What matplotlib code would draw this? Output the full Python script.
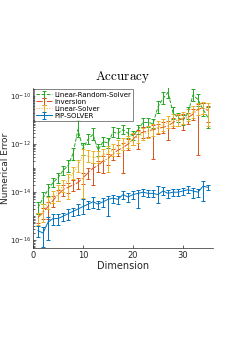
import numpy as np
import matplotlib
matplotlib.use("Agg")
import matplotlib.pyplot as plt
from matplotlib.ticker import LogLocator, NullFormatter

plt.rcParams["mathtext.fontset"] = "cm"

dims = np.arange(1, 36)

# log10 of mean error, plus error-bar extents below / above (in decades)
rand_log = [-14.65, -14.25, -13.9, -13.6, -13.4, -13.1, -12.9, -12.4, -11.4, -12.2,
            -11.8, -11.6, -12.25, -11.9, -11.95, -11.5, -11.55, -11.4, -11.55, -11.65,
            -11.4, -11.1, -11.1, -11.15, -10.45, -10.1, -9.85, -10.7, -10.9, -11.0,
            -10.7, -9.95, -10.15, -10.55, -10.9]
rand_lo = [0.25, 0.25, 0.25, 0.2, 0.2, 0.2, 0.25, 0.25, 0.3, 0.25,
           0.2, 0.25, 0.25, 0.2, 0.2, 0.2, 0.2, 0.2, 0.2, 0.2,
           0.2, 0.2, 0.2, 0.2, 0.25, 0.25, 0.25, 0.25, 0.2, 0.2,
           0.25, 0.25, 0.25, 0.3, 0.45]
rand_hi = [0.25, 0.25, 0.25, 0.2, 0.2, 0.2, 0.25, 0.25, 0.4, 0.25,
           0.2, 0.25, 0.25, 0.2, 0.2, 0.2, 0.2, 0.2, 0.2, 0.2,
           0.2, 0.2, 0.2, 0.2, 0.25, 0.25, 0.25, 0.25, 0.2, 0.2,
           0.25, 0.25, 0.25, 0.25, 0.45]

inv_log = [-15.05, -14.85, -14.6, -14.35, -14.1, -13.9, -13.8, -13.7, -13.6, -13.4,
           -13.2, -13.0, -12.9, -12.7, -12.6, -12.4, -12.25, -12.15, -12.0, -11.8,
           -11.6, -11.5, -11.45, -11.4, -11.35, -11.3, -11.25, -11.1, -11.0, -10.95,
           -10.9, -10.75, -10.55, -10.5, -10.6]
inv_lo = [0.25, 0.25, 0.5, 0.25, 0.25, 0.25, 0.25, 0.25, 0.25, 0.25,
          0.25, 0.7, 0.25, 0.5, 0.25, 0.25, 0.25, 1.05, 0.25, 0.25,
          0.6, 0.25, 0.25, 1.2, 0.25, 0.25, 0.6, 0.25, 0.25, 0.45,
          0.25, 0.25, 1.9, 0.25, 0.5]
inv_hi = [0.2] * 35

lin_log = [-15.1, -14.75, -14.45, -14.2, -13.95, -13.75, -13.5, -13.2, -12.9, -12.45,
           -12.5, -12.55, -12.55, -12.45, -12.35, -12.25, -12.1, -12.0, -11.9, -11.8,
           -11.7, -11.6, -11.5, -11.4, -11.3, -11.2, -11.1, -11.0, -11.0, -10.9,
           -10.8, -10.65, -10.55, -10.5, -10.55]
lin_lo = [0.25, 0.5, 0.25, 0.25, 0.4, 0.25, 0.8, 0.25, 0.25, 1.8,
          0.25, 0.25, 0.25, 0.25, 0.8, 0.25, 0.25, 0.25, 0.25, 0.25,
          0.25, 0.25, 0.25, 0.25, 0.25, 0.25, 0.25, 0.25, 0.25, 0.25,
          0.25, 0.25, 0.25, 0.25, 0.7]
lin_hi = [0.25] * 35

pip_log = [-15.6, -15.7, -15.25, -15.1, -15.1, -15.0, -14.9, -14.8, -14.7, -14.6,
           -14.5, -14.4, -14.5, -14.4, -14.3, -14.25, -14.3, -14.1, -14.2, -14.1,
           -14.05, -14.0, -14.05, -14.05, -14.1, -13.95, -14.05, -14.0, -14.0, -13.95,
           -13.9, -13.95, -14.0, -13.75, -13.8]
pip_lo = [0.25, 0.6, 0.75, 0.25, 0.25, 0.2, 0.25, 0.2, 0.25, 0.3,
          0.2, 0.25, 0.2, 0.2, 0.7, 0.2, 0.2, 0.2, 0.2, 0.2,
          0.6, 0.15, 0.15, 0.15, 0.35, 0.15, 0.2, 0.15, 0.15, 0.15,
          0.15, 0.3, 0.2, 0.6, 0.12]
pip_hi = [0.2, 0.25, 0.2, 0.2, 0.2, 0.15, 0.2, 0.15, 0.2, 0.3,
          0.15, 0.2, 0.15, 0.15, 0.15, 0.15, 0.15, 0.15, 0.15, 0.15,
          0.15, 0.15, 0.12, 0.12, 0.35, 0.15, 0.12, 0.12, 0.12, 0.12,
          0.15, 0.12, 0.15, 0.2, 0.1]

series = [
    ("Linear-Random-Solver", rand_log, rand_lo, rand_hi, "#22a822", "--"),
    ("Inversion", inv_log, inv_lo, inv_hi, "#D95319", "-."),
    ("Linear-Solver", lin_log, lin_lo, lin_hi, "#EDB120", ":"),
    ("PIP-SOLVER", pip_log, pip_lo, pip_hi, "#0072BD", "-"),
]

fig = plt.figure(figsize=(2.48, 3.51), dpi=100)
ax = fig.add_axes([0.133, 0.293, 0.726, 0.456])

for name, mlog, lo, hi, col, ls in series:
    m = np.asarray(mlog)
    y = 10.0 ** m
    err = [y - 10.0 ** (m - np.asarray(lo)), 10.0 ** (m + np.asarray(hi)) - y]
    ax.errorbar(dims, y, yerr=err, color=col, ls=ls, lw=0.7, elinewidth=0.7,
                capsize=1.5, capthick=0.7, label=name)

ax.set_yscale("log")
ax.set_xlim(0, 36)
ax.set_ylim(10 ** -16.33, 10 ** -9.67)
ax.set_xticks([0, 10, 20, 30])
ax.yaxis.set_major_locator(LogLocator(base=100))
ax.yaxis.set_minor_locator(LogLocator(base=10, subs=np.arange(1, 10), numticks=30))
ax.yaxis.set_minor_formatter(NullFormatter())
for s in ("top", "right"):
    ax.spines[s].set_visible(False)
for s in ("left", "bottom"):
    ax.spines[s].set_color("#262626")
    ax.spines[s].set_linewidth(0.5)
ax.tick_params(which="both", direction="in", colors="#262626", width=0.5, pad=2)
ax.tick_params(axis="x", labelsize=6)
ax.tick_params(axis="y", labelsize=5, pad=1.5)
ax.tick_params(which="major", length=2.5)
ax.tick_params(which="minor", length=1.5)

ax.set_xlabel("Dimension", fontsize=7, color="#262626", labelpad=1)
ax.set_ylabel("Numerical Error", fontsize=6.5, color="#262626")
ax.yaxis.set_label_coords(-0.125, 0.5)
ax.set_title(r"$\mathrm{Accuracy}$", fontsize=9.5, pad=6)

leg = ax.legend(loc="upper left", fontsize=5, frameon=True, fancybox=False,
                handlelength=2.2, borderpad=0.3, labelspacing=0.15,
                handletextpad=0.4, borderaxespad=0.2)
leg.get_frame().set_edgecolor("#262626")
leg.get_frame().set_linewidth(0.5)

fig.savefig("out.png", dpi=100)
